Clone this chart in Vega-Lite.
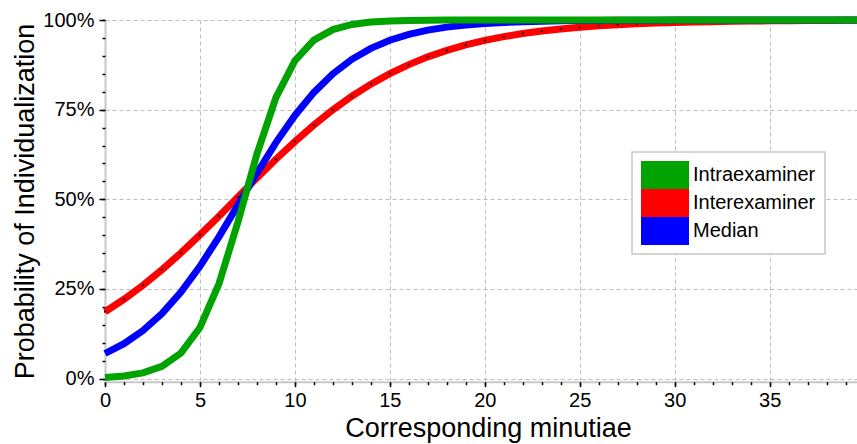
{
  "$schema": "https://vega.github.io/schema/vega-lite/v6.json",
  "autosize": {"type": "none"},
  "width": 752,
  "height": 361.7,
  "padding": {"left": 105, "top": 20, "right": 0, "bottom": 62.3},
  "background": "white",
  "config": {
    "font": "Liberation Sans",
    "view": {"stroke": null},
    "axis": {
      "labelFont": "Liberation Sans",
      "titleFont": "Liberation Sans",
      "labelColor": "black",
      "titleColor": "black",
      "titleFontWeight": "normal",
      "domainColor": "#c8c8c8",
      "domainWidth": 2,
      "tickColor": "black",
      "tickWidth": 1.5,
      "gridColor": "#bdbdbd",
      "gridDash": [4, 3],
      "gridWidth": 1
    },
    "legend": {
      "labelFont": "Liberation Sans",
      "labelColor": "black"
    }
  },
  "data": {
    "values": [
      {"x": 0, "p": 0.1866, "s": "Interexaminer"},
      {"x": 1, "p": 0.2213, "s": "Interexaminer"},
      {"x": 2, "p": 0.2604, "s": "Interexaminer"},
      {"x": 3, "p": 0.3037, "s": "Interexaminer"},
      {"x": 4, "p": 0.3507, "s": "Interexaminer"},
      {"x": 5, "p": 0.4008, "s": "Interexaminer"},
      {"x": 6, "p": 0.4531, "s": "Interexaminer"},
      {"x": 7, "p": 0.5065, "s": "Interexaminer"},
      {"x": 8, "p": 0.5597, "s": "Interexaminer"},
      {"x": 9, "p": 0.6116, "s": "Interexaminer"},
      {"x": 10, "p": 0.6610, "s": "Interexaminer"},
      {"x": 11, "p": 0.7072, "s": "Interexaminer"},
      {"x": 12, "p": 0.7495, "s": "Interexaminer"},
      {"x": 13, "p": 0.7875, "s": "Interexaminer"},
      {"x": 14, "p": 0.8211, "s": "Interexaminer"},
      {"x": 15, "p": 0.8504, "s": "Interexaminer"},
      {"x": 16, "p": 0.8757, "s": "Interexaminer"},
      {"x": 17, "p": 0.8972, "s": "Interexaminer"},
      {"x": 18, "p": 0.9153, "s": "Interexaminer"},
      {"x": 19, "p": 0.9305, "s": "Interexaminer"},
      {"x": 20, "p": 0.9431, "s": "Interexaminer"},
      {"x": 21, "p": 0.9536, "s": "Interexaminer"},
      {"x": 22, "p": 0.9622, "s": "Interexaminer"},
      {"x": 23, "p": 0.9693, "s": "Interexaminer"},
      {"x": 24, "p": 0.9750, "s": "Interexaminer"},
      {"x": 25, "p": 0.9797, "s": "Interexaminer"},
      {"x": 26, "p": 0.9836, "s": "Interexaminer"},
      {"x": 27, "p": 0.9867, "s": "Interexaminer"},
      {"x": 28, "p": 0.9892, "s": "Interexaminer"},
      {"x": 29, "p": 0.9913, "s": "Interexaminer"},
      {"x": 30, "p": 0.9930, "s": "Interexaminer"},
      {"x": 31, "p": 0.9943, "s": "Interexaminer"},
      {"x": 32, "p": 0.9954, "s": "Interexaminer"},
      {"x": 33, "p": 0.9963, "s": "Interexaminer"},
      {"x": 34, "p": 0.9970, "s": "Interexaminer"},
      {"x": 35, "p": 0.9976, "s": "Interexaminer"},
      {"x": 36, "p": 0.9981, "s": "Interexaminer"},
      {"x": 37, "p": 0.9984, "s": "Interexaminer"},
      {"x": 38, "p": 0.9988, "s": "Interexaminer"},
      {"x": 39, "p": 0.9990, "s": "Interexaminer"},
      {"x": 40, "p": 0.9992, "s": "Interexaminer"},
      {"x": 0, "p": 0.0701, "s": "Median"},
      {"x": 1, "p": 0.0975, "s": "Median"},
      {"x": 2, "p": 0.1341, "s": "Median"},
      {"x": 3, "p": 0.1817, "s": "Median"},
      {"x": 4, "p": 0.2414, "s": "Median"},
      {"x": 5, "p": 0.3133, "s": "Median"},
      {"x": 6, "p": 0.3953, "s": "Median"},
      {"x": 7, "p": 0.4838, "s": "Median"},
      {"x": 8, "p": 0.5732, "s": "Median"},
      {"x": 9, "p": 0.6582, "s": "Median"},
      {"x": 10, "p": 0.7340, "s": "Median"},
      {"x": 11, "p": 0.7982, "s": "Median"},
      {"x": 12, "p": 0.8500, "s": "Median"},
      {"x": 13, "p": 0.8904, "s": "Median"},
      {"x": 14, "p": 0.9209, "s": "Median"},
      {"x": 15, "p": 0.9435, "s": "Median"},
      {"x": 16, "p": 0.9599, "s": "Median"},
      {"x": 17, "p": 0.9717, "s": "Median"},
      {"x": 18, "p": 0.9801, "s": "Median"},
      {"x": 19, "p": 0.9860, "s": "Median"},
      {"x": 20, "p": 0.9902, "s": "Median"},
      {"x": 21, "p": 0.9931, "s": "Median"},
      {"x": 22, "p": 0.9952, "s": "Median"},
      {"x": 23, "p": 0.9966, "s": "Median"},
      {"x": 24, "p": 0.9977, "s": "Median"},
      {"x": 25, "p": 0.9984, "s": "Median"},
      {"x": 26, "p": 0.9989, "s": "Median"},
      {"x": 27, "p": 0.9992, "s": "Median"},
      {"x": 28, "p": 0.9994, "s": "Median"},
      {"x": 29, "p": 0.9996, "s": "Median"},
      {"x": 30, "p": 0.9997, "s": "Median"},
      {"x": 31, "p": 0.9998, "s": "Median"},
      {"x": 32, "p": 0.9998, "s": "Median"},
      {"x": 33, "p": 0.9999, "s": "Median"},
      {"x": 34, "p": 0.9999, "s": "Median"},
      {"x": 35, "p": 0.9999, "s": "Median"},
      {"x": 36, "p": 1.0, "s": "Median"},
      {"x": 37, "p": 1.0, "s": "Median"},
      {"x": 38, "p": 1.0, "s": "Median"},
      {"x": 39, "p": 1.0, "s": "Median"},
      {"x": 40, "p": 1.0, "s": "Median"},
      {"x": 0, "p": 0.0035, "s": "Intraexaminer"},
      {"x": 1, "p": 0.0076, "s": "Intraexaminer"},
      {"x": 2, "p": 0.0162, "s": "Intraexaminer"},
      {"x": 3, "p": 0.0344, "s": "Intraexaminer"},
      {"x": 4, "p": 0.0715, "s": "Intraexaminer"},
      {"x": 5, "p": 0.1426, "s": "Intraexaminer"},
      {"x": 6, "p": 0.2643, "s": "Intraexaminer"},
      {"x": 7, "p": 0.4368, "s": "Intraexaminer"},
      {"x": 8, "p": 0.6262, "s": "Intraexaminer"},
      {"x": 9, "p": 0.7834, "s": "Intraexaminer"},
      {"x": 10, "p": 0.8865, "s": "Intraexaminer"},
      {"x": 11, "p": 0.9440, "s": "Intraexaminer"},
      {"x": 12, "p": 0.9733, "s": "Intraexaminer"},
      {"x": 13, "p": 0.9875, "s": "Intraexaminer"},
      {"x": 14, "p": 0.9942, "s": "Intraexaminer"},
      {"x": 15, "p": 0.9973, "s": "Intraexaminer"},
      {"x": 16, "p": 0.9987, "s": "Intraexaminer"},
      {"x": 17, "p": 0.9994, "s": "Intraexaminer"},
      {"x": 18, "p": 0.9997, "s": "Intraexaminer"},
      {"x": 19, "p": 0.9999, "s": "Intraexaminer"},
      {"x": 20, "p": 1.0, "s": "Intraexaminer"},
      {"x": 21, "p": 1.0, "s": "Intraexaminer"},
      {"x": 22, "p": 1.0, "s": "Intraexaminer"},
      {"x": 23, "p": 1.0, "s": "Intraexaminer"},
      {"x": 24, "p": 1.0, "s": "Intraexaminer"},
      {"x": 25, "p": 1.0, "s": "Intraexaminer"},
      {"x": 26, "p": 1.0, "s": "Intraexaminer"},
      {"x": 27, "p": 1.0, "s": "Intraexaminer"},
      {"x": 28, "p": 1.0, "s": "Intraexaminer"},
      {"x": 29, "p": 1.0, "s": "Intraexaminer"},
      {"x": 30, "p": 1.0, "s": "Intraexaminer"},
      {"x": 31, "p": 1.0, "s": "Intraexaminer"},
      {"x": 32, "p": 1.0, "s": "Intraexaminer"},
      {"x": 33, "p": 1.0, "s": "Intraexaminer"},
      {"x": 34, "p": 1.0, "s": "Intraexaminer"},
      {"x": 35, "p": 1.0, "s": "Intraexaminer"},
      {"x": 36, "p": 1.0, "s": "Intraexaminer"},
      {"x": 37, "p": 1.0, "s": "Intraexaminer"},
      {"x": 38, "p": 1.0, "s": "Intraexaminer"},
      {"x": 39, "p": 1.0, "s": "Intraexaminer"},
      {"x": 40, "p": 1.0, "s": "Intraexaminer"}
    ]
  },
  "resolve": {"axis": {"x": "independent", "y": "independent"}},
  "layer": [
    {
      "transform": [{"filter": "datum.s === 'Interexaminer'"}],
      "mark": {"type": "line", "strokeWidth": 7, "clip": false},
      "encoding": {
        "x": {
          "field": "x", "type": "quantitative",
          "scale": {"domain": [0, 39.6], "nice": false, "zero": false},
          "axis": {
            "orient": "bottom",
            "values": [0, 5, 10, 15, 20, 25, 30, 35],
            "grid": true,
            "tickSize": 5,
            "labelFontSize": 20,
            "labelPadding": 4,
            "labelFlush": false,
            "labelOverlap": false,
            "title": "Corresponding minutiae",
            "titleFontSize": 27,
            "titleX": 383,
            "titleY": 54.3,
            "titleBaseline": "alphabetic",
            "titleAlign": "center"
          }
        },
        "y": {
          "field": "p", "type": "quantitative",
          "scale": {"domain": [-0.0085, 1], "nice": false, "zero": false},
          "axis": {
            "orient": "left",
            "values": [0, 0.25, 0.5, 0.75, 1],
            "format": ".0%",
            "grid": true,
            "tickSize": 6,
            "labelFontSize": 20,
            "labelPadding": 5,
            "labelFlush": false,
            "labelOverlap": false,
            "labelBaseline": "middle",
            "title": "Probability of Individualization",
            "titleFontSize": 27,
            "titleX": -72,
            "titleY": 181,
            "titleAngle": 270,
            "titleBaseline": "alphabetic",
            "titleAlign": "center"
          }
        },
        "color": {
          "field": "s", "type": "nominal",
          "scale": {
            "domain": ["Intraexaminer", "Interexaminer", "Median"],
            "range": ["#00a300", "#ff0000", "#0000ff"]
          },
          "legend": {
            "orient": "none",
            "legendX": 527,
            "legendY": 132,
            "title": null,
            "symbolType": "M-1,-0.583H1V0.583H-1Z",
            "symbolSize": 2304,
            "symbolStrokeWidth": 0,
            "labelFontSize": 20,
            "labelOffset": 4,
            "clipHeight": 28,
            "rowPadding": 0,
            "padding": 9,
            "strokeColor": "#c8c8c8",
            "fillColor": "white",
            "encode": {
              "symbols": {
                "update": {
                  "fill": {"scale": "color", "field": "value"},
                  "stroke": {"value": "transparent"},
                  "strokeWidth": {"value": 0},
                  "opacity": {"value": 1}
                }
              },
              "legend": {"update": {"strokeWidth": {"value": 1.5}}}
            }
          }
        }
      }
    },
    {
      "transform": [{"filter": "datum.s === 'Interexaminer'"}],
      "mark": {"type": "point", "filled": true, "color": "black", "size": 5, "opacity": 1},
      "encoding": {
        "x": {
          "field": "x", "type": "quantitative",
          "axis": {
            "orient": "bottom",
            "values": [0,1,2,3,4,5,6,7,8,9,10,11,12,13,14,15,16,17,18,19,20,21,22,23,24,25,26,27,28,29,30,31,32,33,34,35,36,37,38,39],
            "grid": false, "labels": false, "domain": false, "title": null,
            "tickSize": 3
          }
        },
        "y": {
          "field": "p", "type": "quantitative",
          "axis": {
            "orient": "left",
            "values": [0,0.05,0.1,0.15,0.2,0.25,0.3,0.35,0.4,0.45,0.5,0.55,0.6,0.65,0.7,0.75,0.8,0.85,0.9,0.95,1],
            "grid": false, "labels": false, "domain": false, "title": null,
            "tickSize": 3
          }
        }
      }
    },
    {
      "transform": [{"filter": "datum.s === 'Median'"}],
      "mark": {"type": "line", "strokeWidth": 7, "clip": false},
      "encoding": {
        "x": {"field": "x", "type": "quantitative", "axis": null},
        "y": {"field": "p", "type": "quantitative", "axis": null},
        "color": {"field": "s", "type": "nominal"}
      }
    },
    {
      "transform": [{"filter": "datum.s === 'Intraexaminer'"}],
      "mark": {"type": "line", "strokeWidth": 7, "clip": false},
      "encoding": {
        "x": {"field": "x", "type": "quantitative", "axis": null},
        "y": {"field": "p", "type": "quantitative", "axis": null},
        "color": {"field": "s", "type": "nominal"}
      }
    }
  ]
}
